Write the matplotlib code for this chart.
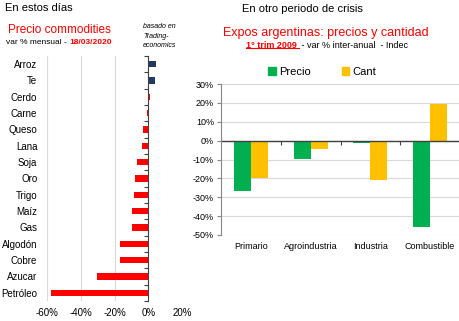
import matplotlib
matplotlib.use('Agg')
import matplotlib.pyplot as plt
from matplotlib.lines import Line2D
from matplotlib.patches import Patch
from matplotlib.transforms import IdentityTransform
import numpy as np

plt.rcParams['font.family'] = ['Liberation Sans', 'DejaVu Sans']

# ---- data ----
commodities = ['Arroz', 'Te', 'Cerdo', 'Carne', 'Queso', 'Lana', 'Soja', 'Oro',
               'Trigo', 'Maíz', 'Gas', 'Algodón', 'Cobre', 'Azucar', 'Petróleo']
commodity_change = [4.5, 4.0, 0.9, -0.9, -3.0, -4.0, -6.7, -8.0,
                    -8.7, -9.4, -9.4, -16.7, -17.0, -30.6, -57.5]
commodity_colors = ['#1F3864', '#1F3864'] + ['#FF0000'] * 13
left_xticks = [-60, -40, -20, 0, 20]

sectors = ['Primario', 'Agroindustria', 'Industria', 'Combustible']
precio = [-26.6, -9.5, -1.0, -46.0]
cant = [-19.9, -4.4, -20.6, 19.6]
right_yticks = [30, 20, 10, 0, -10, -20, -30, -40, -50]

W, H = 460, 321
fig = plt.figure(figsize=(W / 100, H / 100), dpi=100)


def rect(l, t, r, b):
    return [l / W, 1 - b / H, (r - l) / W, (b - t) / H]


# ---- left chart ----
ax1 = fig.add_axes(rect(47, 56, 182, 301))
y = np.arange(len(commodities))
ax1.barh(y, commodity_change, height=0.4, color=commodity_colors)
ax1.set_ylim(len(commodities) - 0.5, -0.5)
ax1.set_xlim(-60, 20)
ax1.set_xticks(left_xticks, [f'{v}%' for v in left_xticks])
ax1.set_yticks(y, commodities)
ax1.tick_params(axis='y', length=0, pad=7, labelsize=7)
ax1.tick_params(axis='x', length=0, pad=5, labelsize=7)
for s in ax1.spines.values():
    s.set_visible(False)
ax1.grid(axis='x', color='#d9d9d9', lw=0.8)
ax1.set_axisbelow(True)

ax1b = ax1.twinx()
ax1b.set_ylim(ax1.get_ylim())
for k in ['top', 'bottom', 'left']:
    ax1b.spines[k].set_visible(False)
ax1b.spines['right'].set_position(('data', 0))
ax1b.spines['right'].set_color('#404040')
ax1b.spines['right'].set_linewidth(0.8)
ax1b.set_yticks(np.arange(-0.5, len(commodities), 1.0))
ax1b.tick_params(axis='y', direction='in', length=3, color='#404040',
                 labelright=False, width=0.8)

# ---- right chart ----
ax2 = fig.add_axes(rect(221, 84, 460, 235))
x = np.arange(len(sectors))
w = 0.283
ax2.bar(x - w / 2, precio, w, color='#00B050', label='Precio')
ax2.bar(x + w / 2, cant, w, color='#FFC000', label='Cant')
ax2.set_xlim(-0.5, len(sectors) - 0.5)
ax2.set_ylim(-50, 30)
ax2.set_yticks(right_yticks, [f'{v}%' for v in right_yticks])
ax2.set_xticks(x, sectors)
ax2.tick_params(axis='x', length=0, pad=5, labelsize=6.5)
ax2.tick_params(axis='y', length=3, color='#868686', labelsize=6.5, pad=2)
for k in ['top', 'right', 'bottom']:
    ax2.spines[k].set_visible(False)
ax2.spines['left'].set_color('#868686')
ax2.grid(axis='y', color='#d9d9d9', lw=0.8)
ax2.set_axisbelow(True)
ax2.axhline(0, color='#404040', lw=1)

ax2b = ax2.twiny()
ax2b.set_xlim(ax2.get_xlim())
for k in ['top', 'left', 'right']:
    ax2b.spines[k].set_visible(False)
ax2b.spines['bottom'].set_position(('data', 0))
ax2b.spines['bottom'].set_visible(False)
ax2b.xaxis.set_ticks_position('bottom')
ax2b.set_xticks(np.arange(0.5, len(sectors) - 0.5, 1.0))
ax2b.tick_params(axis='x', direction='out', length=3, color='#404040',
                 labelbottom=False, labeltop=False, width=0.8)

handles = [Patch(color='#00B050', label='Precio'), Patch(color='#FFC000', label='Cant')]
fig.legend(handles=handles, loc='center', bbox_to_anchor=(322 / W, 1 - 72 / H),
           ncol=2, frameon=False, fontsize=8, handlelength=0.7, handleheight=0.7,
           handletextpad=0.25, columnspacing=2.8, borderpad=0)

# ---- texts ----
fig.text(5 / W, 1 - 8 / H, 'En estos días', fontsize=8, va='center')
fig.text(8 / W, 1 - 30 / H, 'Precio commodities', color='#FF0000', fontsize=8.5, va='center')
t1 = fig.text(6 / W, 1 - 42 / H, 'var % mensual - ', fontsize=6, va='center')
ax1.annotate('18/03/2020', xy=(1, 0.5), xycoords=t1, va='center', ha='left',
             fontsize=6, weight='bold', color='#FF0000')
fig.text(143 / W, 1 - 23 / H, 'basado en\nTrading-\neconomics', fontsize=5,
         style='italic', va='top', ha='left', linespacing=1.5)

fig.text(242 / W, 1 - 9 / H, 'En otro periodo de crisis', fontsize=8, va='center')
fig.text(326 / W, 1 - 33 / H, 'Expos argentinas: precios y cantidad', color='#FF0000',
         fontsize=9, ha='center', va='center')
t2 = fig.text(246 / W, 1 - 45 / H, '1° trim 2009 ', fontsize=6.5, weight='bold',
              color='#FF0000', va='center')
ax2.annotate(' - var % inter-anual  - Indec', xy=(1, 0.5), xycoords=t2, va='center',
             ha='left', fontsize=6.5)

fig.canvas.draw()
bb = t2.get_window_extent(fig.canvas.get_renderer())
fig.add_artist(Line2D([bb.x0, bb.x1], [bb.y0 + 1.5, bb.y0 + 1.5], color='#FF0000',
                      lw=0.8, transform=IdentityTransform()))

fig.savefig('out.png', dpi=100)
